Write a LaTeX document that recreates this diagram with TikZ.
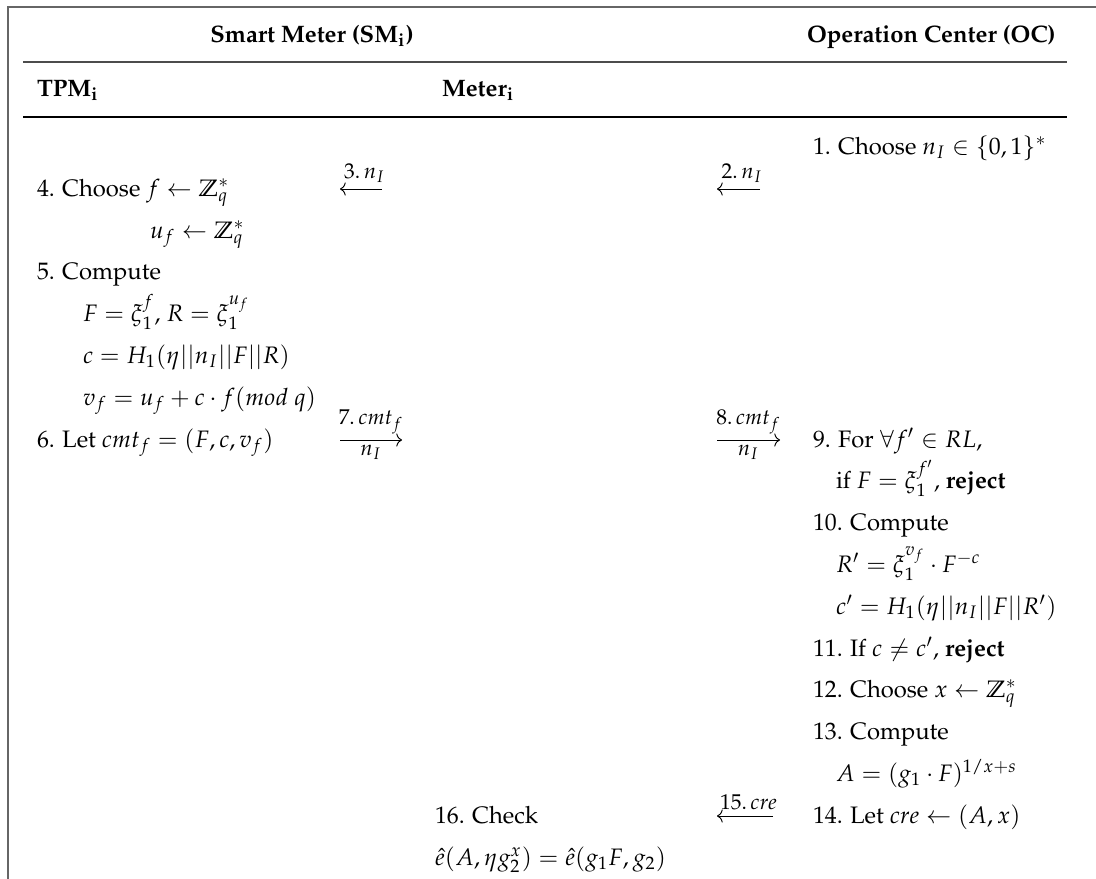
\documentclass[tikz,border=0pt]{standalone}
\usepackage[T1]{fontenc}
\usepackage{amsmath,amssymb}
\usepackage{mathpazo}
\usetikzlibrary{arrows.meta}

\begin{document}
\begin{tikzpicture}[
    x=0.42pt, y=-0.42pt,
    every node/.style={inner sep=0pt, outer sep=0pt, anchor=base west},
    head/.style={font=\bfseries},
    frame/.style={line width=0.85pt, black!60},
    rulea/.style={line width=0.85pt, black!70},
    ruleb/.style={line width=0.7pt, black},
    msg/.style={line width=0.4pt, -{To[length=2.4pt,width=5.5pt]}},
    lbl/.style={anchor=south, inner sep=2.6pt, font=\small},
    lblb/.style={anchor=north, inner sep=2.2pt, font=\small}
]
\useasboundingbox (0,0) rectangle (1096,879);

% frame and header rules
\draw[frame] (8,890) -- (8,7) -- (1100,7);
\coordinate (ra1) at (23,62);
\coordinate (ra2) at (1067,62);
\coordinate (rb1) at (23,117);
\coordinate (rb2) at (1067,117);
\draw[rulea] (ra1) -- (ra2);
\draw[ruleb] (rb1) -- (rb2);

% headers
\node[head, anchor=base] (hsm) at (312,42) {Smart Meter (SM$_{\mathbf{i}}$)};
\node[head] (hoc) at (807,42) {Operation Center (OC)};
\node[head] (htpm) at (37,96) {TPM$_{\mathbf{i}}$};
\node[head] (hmeter) at (442,96) {Meter$_{\mathbf{i}}$};

% TPM column
\node (t4) at (37,196) {4. Choose $f \leftarrow \mathbb{Z}_q^*$};
\node (t4b) at (150,238) {$u_f \leftarrow \mathbb{Z}_q^*$};
\node (t5) at (37,279) {5. Compute};
\node (t5a) at (83,321) {$F=\xi_1^f$, $R=\xi_1^{u_f}$};
\node (t5b) at (83,363) {$c=H_1(\eta||n_I||F||R)$};
\node (t5c) at (83,405) {$v_f=u_f+c\cdot f(mod\ q)$};
\node (t6) at (37,447) {6. Let $cmt_f=(F,c,v_f)$};

% Meter column
\node (m16) at (435,823) {16. Check};
\node (m16a) at (435,865) {$\hat{e}(A,\eta g_2^x)=\hat{e}(g_1F,g_2)$};

% OC column
\node (o1) at (813,154) {1. Choose $n_I \in \{0,1\}^*$};
\node (o9) at (813,447) {9. For $\forall f' \in RL$,};
\node (o9a) at (836,488) {if $F=\xi_1^{f'}$, \textbf{reject}};
\node (o10) at (813,530) {10. Compute};
\node (o10a) at (836,572) {$R'=\xi_1^{v_f}\cdot F^{-c}$};
\node (o10b) at (836,614) {$c'=H_1(\eta||n_I||F||R')$};
\node (o11) at (813,656) {11. If $c \neq c'$, \textbf{reject}};
\node (o12) at (813,697) {12. Choose $x \leftarrow \mathbb{Z}_q^*$};
\node (o13) at (813,739) {13. Compute};
\node (o13a) at (836,781) {$A=(g_1\cdot F)^{1/x+s}$};
\node (o14) at (813,823) {14. Let $cre \leftarrow (A,x)$};

% messages
\coordinate (p2a) at (760,189);
\coordinate (p2b) at (717,189);
\coordinate (p3a) at (382,189);
\coordinate (p3b) at (340,189);
\coordinate (p7a) at (340,440);
\coordinate (p7b) at (402,440);
\coordinate (p8a) at (717,440);
\coordinate (p8b) at (780,440);
\coordinate (p15a) at (773,816);
\coordinate (p15b) at (717,816);

\draw[msg] (p2a) -- (p2b) node[lbl, midway, xshift=1.5pt] {$2.\,n_I$};
\draw[msg] (p3a) -- (p3b) node[lbl, midway, xshift=1.5pt] {$3.\,n_I$};
\draw[msg] (p7a) -- (p7b) node[lbl, midway] {$7.\,cmt_f$} node[lblb, midway] {$n_I$};
\draw[msg] (p8a) -- (p8b) node[lbl, midway] {$8.\,cmt_f$} node[lblb, midway] {$n_I$};
\draw[msg] (p15a) -- (p15b) node[lbl, midway, xshift=1.5pt] {$15.\,cre$};

\end{tikzpicture}
\end{document}
